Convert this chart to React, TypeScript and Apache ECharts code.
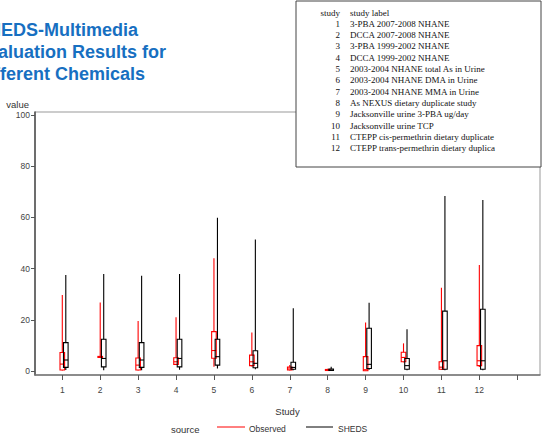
import React, { useEffect, useRef } from "react";
import * as echarts from "echarts";

// Study numbers on the x axis
const studies = [1, 2, 3, 4, 5, 6, 7, 8, 9, 10, 11, 12];

// Box statistics per study: [low whisker, Q1, median, Q3, high whisker]
const observedStats = [
  [0.2, 0.4, 2.7, 7.2, 29.7],
  [5.3, 5.3, 5.5, 5.7, 26.8],
  [0.2, 0.4, 2.3, 5.1, 19.5],
  [2.4, 2.6, 3.6, 5.2, 21.0],
  [1.7, 5.0, 8.0, 15.4, 44.0],
  [1.8, 2.1, 3.6, 6.2, 15.0],
  [0.2, 0.4, 0.8, 1.5, 2.3],
  [0.1, 0.2, 0.4, 0.6, 0.9],
  [0.1, 0.1, 0.5, 5.6, 18.9],
  [3.4, 3.6, 5.3, 7.3, 10.8],
  [0.4, 0.7, 1.5, 3.6, 32.5],
  [1.6, 2.1, 4.0, 9.9, 41.4],
];

const shedsStats = [
  [0.4, 1.4, 4.3, 11.1, 37.5],
  [0.3, 1.6, 4.9, 12.4, 37.9],
  [0.3, 1.4, 4.3, 11.1, 37.2],
  [0.5, 1.6, 4.9, 12.4, 37.9],
  [1.0, 2.3, 5.6, 12.4, 59.9],
  [0.7, 1.3, 3.0, 7.9, 51.4],
  [0.3, 0.7, 1.4, 3.4, 24.5],
  [0.1, 0.2, 0.4, 0.8, 1.7],
  [0.5, 1.0, 2.6, 16.7, 26.7],
  [0.3, 0.7, 2.1, 4.9, 16.3],
  [0.3, 0.7, 4.0, 23.4, 68.4],
  [0.3, 0.7, 4.0, 24.1, 66.8],
];

// Axis tick values
const yTicks = [0, 20, 40, 60, 80, 100];
const xTicks = [1, 2, 3, 4, 5, 6, 7, 8, 9, 10, 11, 12, 13];
const xLabels = [1, 2, 3, 4, 5, 6, 7, 8, 9, 10, 11, 12];

// Study descriptions for the key table
const studyLabels = [
  "3-PBA 2007-2008 NHANE",
  "DCCA 2007-2008 NHANE",
  "3-PBA 1999-2002 NHANE",
  "DCCA 1999-2002 NHANE",
  "2003-2004 NHANE total As in Urine",
  "2003-2004 NHANE DMA in Urine",
  "2003-2004 NHANE MMA in Urine",
  "As NEXUS dietary duplicate study",
  "Jacksonville urine 3-PBA ug/day",
  "Jacksonville urine TCP",
  "CTEPP cis-permethrin dietary duplicate",
  "CTEPP trans-permethrin dietary duplica",
];

const titleLines = ["SHEDS-Multimedia", "Evaluation Results for", "Different Chemicals"];

const SANS = "'Liberation Sans', Arial, sans-serif";
const SERIF = "'Liberation Serif', 'Times New Roman', serif";

function boxSeries(name: string, stats: number[][], color: string, offsetPx: number) {
  const data = studies.map((s, i) => [s, ...stats[i]]);
  return {
    type: "custom",
    name,
    data,
    clip: false,
    renderItem: (_params: any, api: any) => {
      const x = api.value(0);
      const cx = api.coord([x, 0])[0] + offsetPx;
      const yLow = api.coord([x, api.value(1)])[1];
      const yQ1 = api.coord([x, api.value(2)])[1];
      const yMed = api.coord([x, api.value(3)])[1];
      const yQ3 = api.coord([x, api.value(4)])[1];
      const yHigh = api.coord([x, api.value(5)])[1];
      const half = 2.3;
      const stroke = { stroke: color, lineWidth: 1.1, fill: "none" };
      return {
        type: "group",
        children: [
          { type: "line", shape: { x1: cx, y1: yQ3, x2: cx, y2: yHigh }, style: stroke },
          { type: "line", shape: { x1: cx, y1: yLow, x2: cx, y2: yQ1 }, style: stroke },
          {
            type: "rect",
            shape: { x: cx - half, y: yQ3, width: half * 2, height: Math.max(yQ1 - yQ3, 1) },
            style: stroke,
          },
          { type: "line", shape: { x1: cx - half, y1: yMed, x2: cx + half, y2: yMed }, style: stroke },
        ],
      };
    },
  };
}

export default function App() {
  const ref = useRef<HTMLDivElement>(null);

  useEffect(() => {
    if (!ref.current) return;
    const chart = echarts.init(ref.current, null, { renderer: "svg" });

    const tableX = 296;
    const tableY = 1;
    const rowH = 11.3;
    const tableTexts: any[] = [
      {
        type: "text",
        x: 340,
        y: tableY + 11.5,
        style: { text: "study", font: `9px ${SERIF}`, fill: "#111", align: "right", verticalAlign: "middle" },
      },
      {
        type: "text",
        x: 350,
        y: tableY + 11.5,
        style: { text: "study label", font: `9px ${SERIF}`, fill: "#111", align: "left", verticalAlign: "middle" },
      },
    ];
    studies.forEach((s, i) => {
      const y = tableY + 11.5 + (i + 1) * rowH;
      tableTexts.push({
        type: "text",
        x: 340,
        y,
        style: { text: String(s), font: `9px ${SERIF}`, fill: "#111", align: "right", verticalAlign: "middle" },
      });
      tableTexts.push({
        type: "text",
        x: 350,
        y,
        style: { text: studyLabels[i], font: `9px ${SERIF}`, fill: "#111", align: "left", verticalAlign: "middle" },
      });
    });

    const option: any = {
      animation: false,
      backgroundColor: "#fff",
      grid: {
        left: 35,
        right: 4,
        top: 112,
        bottom: 62,
        containLabel: false,
        outerBoundsMode: "none",
        show: true,
        borderColor: "#999",
        borderWidth: 1,
      },
      xAxis: {
        type: "value",
        min: 0.28,
        max: 13.6,
        axisLine: { show: true, onZero: false, lineStyle: { color: "#777", width: 1.6 } },
        axisTick: { show: true, length: 5, customValues: xTicks, lineStyle: { color: "#555" } },
        axisLabel: {
          customValues: xLabels,
          margin: 10,
          fontSize: 8.5,
          fontFamily: SANS,
          color: "#444",
        },
        splitLine: { show: false },
        name: "Study",
        nameLocation: "middle",
        nameGap: 31,
        nameTextStyle: { fontSize: 9.5, fontFamily: SANS, color: "#333" },
      },
      yAxis: {
        type: "value",
        min: -1.56,
        max: 101.17,
        axisLine: { show: true, onZero: false, lineStyle: { color: "#555", width: 1.6 } },
        axisTick: { show: true, length: 4, customValues: yTicks, lineStyle: { color: "#555" } },
        axisLabel: {
          customValues: yTicks,
          margin: 5,
          fontSize: 8.5,
          fontFamily: SANS,
          color: "#444",
        },
        splitLine: { show: false },
        name: "value",
        nameLocation: "end",
        nameGap: 3,
        nameTextStyle: {
          fontSize: 9.5,
          fontFamily: SANS,
          color: "#333",
          align: "right",
          verticalAlign: "bottom",
          padding: [0, 6, 0, 0],
        },
      },
      series: [boxSeries("Observed", observedStats, "#ff0000", 0), boxSeries("SHEDS", shedsStats, "#000000", 3.5)],
      graphic: [
        ...titleLines.map((t, i) => ({
          type: "text",
          x: -24,
          y: 30 + i * 22,
          style: {
            text: t,
            font: `bold 18px ${SANS}`,
            fill: "#176fc1",
            align: "left",
            verticalAlign: "middle",
          },
        })),
        {
          type: "rect",
          z: 100,
          shape: { x: tableX, y: tableY, width: 245, height: 166 },
          style: { fill: "#fff", stroke: "#444", lineWidth: 1 },
        },
        ...tableTexts.map((t) => ({ ...t, z: 101 })),
        {
          type: "text",
          x: 171,
          y: 429,
          style: { text: "source", font: `9.5px ${SANS}`, fill: "#333", verticalAlign: "middle" },
        },
        {
          type: "line",
          shape: { x1: 217, y1: 427, x2: 245, y2: 427 },
          style: { stroke: "#ff0000", lineWidth: 1 },
        },
        {
          type: "text",
          x: 249,
          y: 429,
          style: { text: "Observed", font: `8.5px ${SANS}`, fill: "#333", verticalAlign: "middle" },
        },
        {
          type: "line",
          shape: { x1: 306, y1: 427, x2: 333, y2: 427 },
          style: { stroke: "#000", lineWidth: 1 },
        },
        {
          type: "text",
          x: 338,
          y: 429,
          style: { text: "SHEDS", font: `8.5px ${SANS}`, fill: "#333", verticalAlign: "middle" },
        },
      ],
    };

    chart.setOption(option);
    return () => chart.dispose();
  }, []);

  return <div ref={ref} style={{ position: "fixed", left: 0, top: 0, width: 544, height: 437 }} />;
}
